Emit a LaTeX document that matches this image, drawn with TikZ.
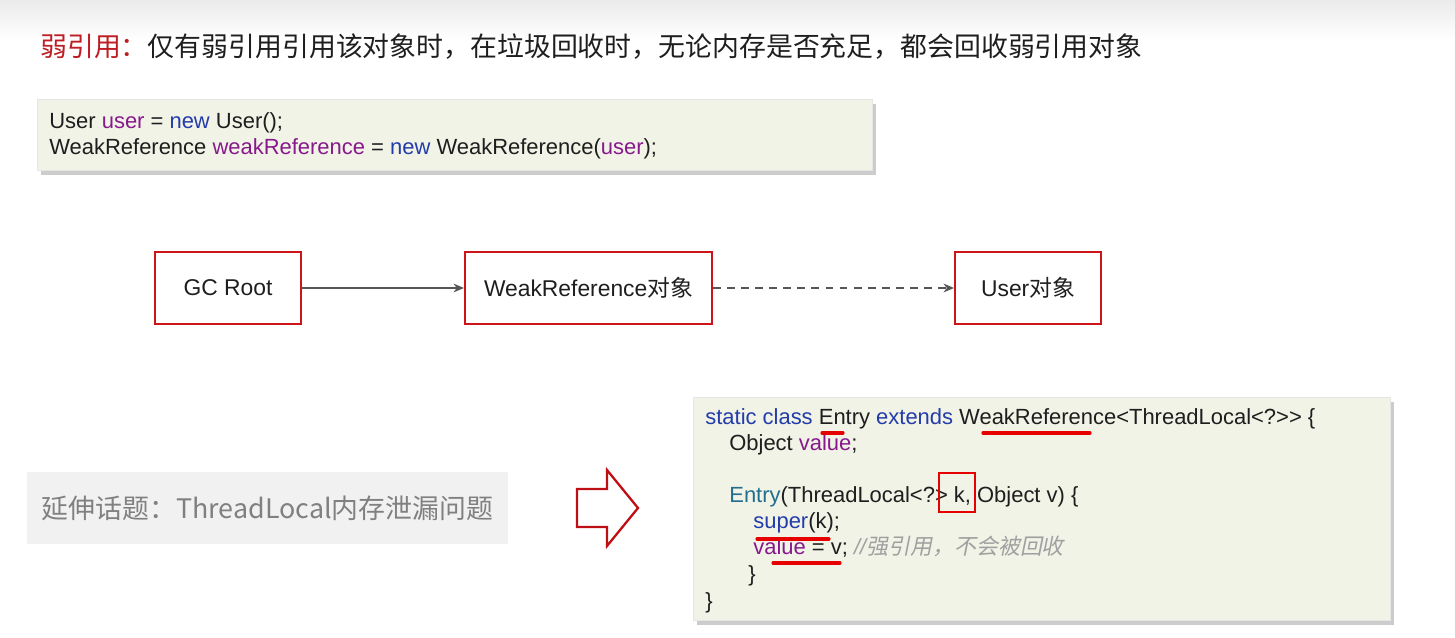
\documentclass[tikz,border=0pt]{standalone}
\usepackage{fontspec}
\setmainfont{Liberation Sans}
\newfontfamily\cjk{Noto Sans CJK SC}
\newfontfamily\cjkslant[FakeSlant=0.2]{Noto Sans CJK SC}
\usetikzlibrary{positioning,arrows.meta,shadows}
\definecolor{txt}{RGB}{30,30,30}
\definecolor{titlered}{RGB}{190,30,35}
\definecolor{boxred}{RGB}{205,20,25}
\definecolor{penred}{RGB}{230,0,0}
\definecolor{arrowred}{RGB}{190,15,20}
\definecolor{linegray}{RGB}{85,85,85}
\definecolor{codebg}{RGB}{241,243,231}
\definecolor{topicbg}{RGB}{241,241,241}
\definecolor{topictxt}{RGB}{128,128,128}
\definecolor{kw}{RGB}{35,60,170}
\definecolor{var}{RGB}{135,25,140}
\definecolor{ctor}{RGB}{35,110,140}
\definecolor{cmt}{RGB}{160,160,160}
\newcommand\codesize{\fontsize{12.5pt}{15pt}\selectfont}

\begin{document}
\begin{tikzpicture}[x=0.02cm,y=-0.02cm,
  objbox/.style={draw=boxred,line width=1.2pt,minimum height=1.44cm,inner sep=0pt,
    font=\fontsize{13pt}{15pt}\selectfont,text=txt},
  ref/.style={draw=linegray,line width=0.9pt,-{Stealth[length=6pt,width=5pt]}},
  codebox/.style={fill=codebg,draw=black!10,
    drop shadow={shadow xshift=2pt,shadow yshift=-3pt,opacity=.4}},
  codeline/.style={anchor=base west,inner sep=0pt,font=\codesize,text=txt},
  redpen/.style={draw=penred,line width=1.8pt,line cap=round}]
   \useasboundingbox (0,0) rectangle (1455,638);
   \shade[top color=black!8,bottom color=white] (0,0) rectangle (1455,40);

   \node[anchor=base west,inner sep=0pt,font=\cjk\fontsize{15.3pt}{18pt}\selectfont,text=txt] (title) at (40,57)
     {\textcolor{titlered}{弱引用：}仅有弱引用引用该对象时，在垃圾回收时，无论内存是否充足，都会回收弱引用对象};

   \path[codebox] (37,99) rectangle (872,170);
   \node[codeline] (u1) at (49,129) {User \textcolor{var}{user} = \textcolor{kw}{new} User();};
   \node[codeline] (u2) at (49,155) {WeakReference \textcolor{var}{weakReference} = \textcolor{kw}{new} WeakReference(\textcolor{var}{user});};

   \node[objbox,minimum width=2.92cm] (gc) at (228,288) {GC Root};
   \node[objbox,minimum width=4.94cm,right=3.24cm of gc] (weak) {WeakReference{\cjk 对象}};
   \node[objbox,minimum width=2.92cm,right=4.82cm of weak] (user) {User{\cjk 对象}};

   \draw[ref] (gc) -- (weak);
   \draw[ref,dash pattern=on 4.5pt off 3.5pt] (weak) -- (user);

   \node[fill=topicbg,minimum width=9.62cm,minimum height=1.44cm,inner sep=0pt,
     font=\cjk\fontsize{15.3pt}{18pt}\selectfont,text=topictxt] (topic) at (267.5,508)
     {延伸话题：ThreadLocal内存泄漏问题};

   \draw[draw=arrowred,line width=1.3pt,fill=white,line join=miter]
     (577,489) -- (607,489) -- (607,470) -- (638,508) -- (607,546) -- (607,527) -- (577,527) -- cycle;

   \path[codebox] (693,397) rectangle (1390,620);
   \node[codeline] (c1) at (705,425) {\textcolor{kw}{static class} Entry \textcolor{kw}{extends} WeakReference<ThreadLocal<?>{}> \{};
   \node[codeline] (c2) at (729,451) {Object \textcolor{var}{value};};
   \node[codeline] (c4) at (729,503) {\textcolor{ctor}{Entry}(ThreadLocal<?> k, Object v) \{};
   \node[codeline] (c5) at (753,529) {\textcolor{kw}{super}(k);};
   \node[codeline] (c6) at (753,555) {\textcolor{var}{value} = v; \textcolor{cmt}{\itshape //{\cjkslant 强引用，不会被回收}}};
   \node[codeline] (c7) at (748,582) {\}};
   \node[codeline] (c8) at (705,609) {\}};

   \draw[redpen] (983,433) -- (1090,433);
   \draw[redpen] (822,433) -- (843,433);
   \draw[redpen,line width=1.2pt] (939,473) rectangle (975,512);
   \draw[redpen] (757,539) -- (829,539);
   \draw[redpen] (773,563) -- (840,563);
\end{tikzpicture}
\end{document}
